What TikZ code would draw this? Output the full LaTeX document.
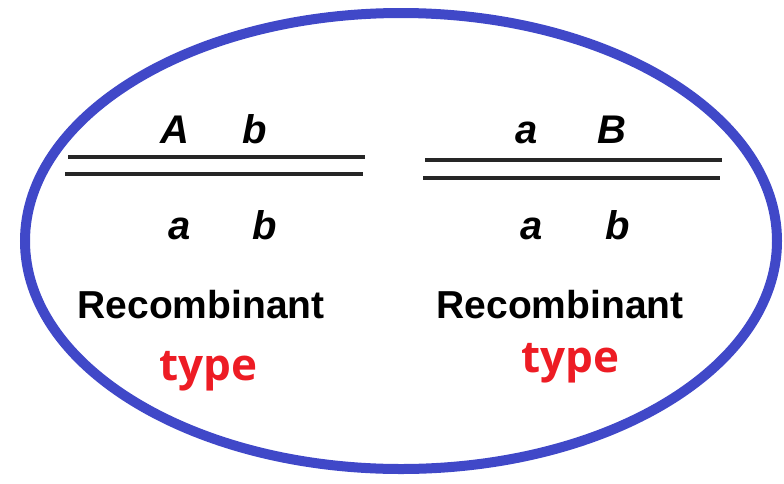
\documentclass[tikz,border=0pt]{standalone}
\usepackage{fontspec}
\setmainfont{Liberation Sans}
\newfontfamily\typefont{Open Sans}
\usetikzlibrary{positioning}
\definecolor{ringblue}{RGB}{64,72,200}
\definecolor{typered}{RGB}{237,28,36}

\begin{document}
\begin{tikzpicture}[
        x=1pt, y=-1pt,
        allele/.style={font=\fontsize{40}{40}\selectfont\bfseries\itshape, inner sep=0pt, anchor=base},
        chrom/.style={line width=4pt, draw=black!85},
        rec/.style={font=\fontsize{39}{39}\selectfont\bfseries, inner sep=0pt, anchor=base},
        kind/.style={font=\typefont\fontsize{44}{44}\selectfont\bfseries, text=typered, inner sep=0pt, anchor=base}
    ]
        \useasboundingbox (0,0) rectangle (784,483);
        \draw[ringblue, line width=10pt] (401,241) ellipse [x radius=376, y radius=228];

        % left pair
        \node[allele] (lA) at (175,143) {A};
        \node[allele] (lb) at (255,143) {b};
        \coordinate (l1s) at (68,157);  \coordinate (l1e) at (365,157);
        \coordinate (l2s) at (65,174);  \coordinate (l2e) at (363,174);
        \draw[chrom] (l1s) -- (l1e);
        \draw[chrom] (l2s) -- (l2e);
        \node[allele] (la) at (180,239) {a};
        \node[allele] (lb2) at (265,239) {b};
        \node[rec] (lrec) at (201,318) {Recombinant};
        \node[kind] (ltype) at (208,380) {type};

        % right pair
        \node[allele] (ra) at (527,143) {a};
        \node[allele] (rB) at (612,143) {B};
        \coordinate (r1s) at (425,160); \coordinate (r1e) at (722,160);
        \coordinate (r2s) at (423,178); \coordinate (r2e) at (720,178);
        \draw[chrom] (r1s) -- (r1e);
        \draw[chrom] (r2s) -- (r2e);
        \node[allele] (ra2) at (532,239) {a};
        \node[allele] (rb2) at (618,239) {b};
        \node[rec] (rrec) at (560,318) {Recombinant};
        \node[kind] (rtype) at (570,372) {type};
    \end{tikzpicture}
\end{document}
